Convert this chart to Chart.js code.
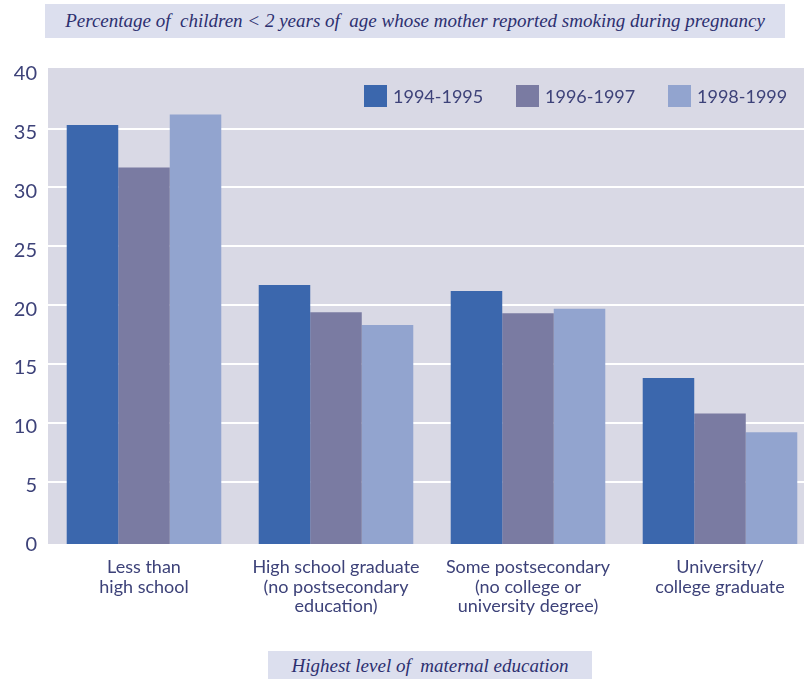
<!DOCTYPE html>
<html>
<head>
<meta charset="utf-8">
<script src="https://cdn.jsdelivr.net/npm/chart.js@4"></script>
<style>
  html, body { margin: 0; padding: 0; background: #fff; overflow: hidden; }
  body { width: 804px; height: 679px; position: relative; }
  #chart { position: absolute; left: 0; top: 0; }
  .caption {
    position: absolute;
    background: #dcdfee;
    color: #2d3070;
    font-family: "Liberation Serif", serif;
    font-style: italic;
    font-size: 19px;
    text-align: center;
    white-space: nowrap;
  }
  #title { left: 45px; top: 4px; width: 740px; height: 34px; line-height: 34px; }
  #xtitle { left: 268px; top: 651px; width: 324px; height: 30px; line-height: 30px; }
</style>
</head>
<body>
<div id="title" class="caption">Percentage of&nbsp; children &lt; 2 years of&nbsp; age whose mother reported smoking during pregnancy</div>
<canvas id="chart" width="820" height="640"></canvas>
<div id="xtitle" class="caption">Highest level of&nbsp; maternal education</div>

<script>
// Education levels (multi-line tick labels)
const categories = [
    ['Less than', 'high school'],
    ['High school graduate', '(no postsecondary', 'education)'],
    ['Some postsecondary', '(no college or', 'university degree)'],
    ['University/', 'college graduate']
];

// Survey periods
const seriesLabels = ['1994-1995', '1996-1997', '1998-1999'];

// Percent of children whose mother smoked during pregnancy
const values9495 = [35.3, 21.7, 21.2, 13.8];
const values9697 = [31.7, 19.4, 19.3, 10.8];
const values9899 = [36.2, 18.3, 19.7, 9.2];

const yTicks = [0, 5, 10, 15, 20, 25, 30, 35, 40];

const seriesColors = ['#3b67ad', '#7a7ba2', '#92a4cf'];
const textColor = '#3d4279';
const Y_MIN = -0.3;
const Y_MAX = 40.15;

// Fill the plot area before anything else is drawn
const plotBackground = {
    id: 'plotBackground',
    beforeDraw(chart) {
        const { ctx, chartArea: a } = chart;
        ctx.save();
        ctx.fillStyle = '#d9d9e5';
        ctx.fillRect(a.left, a.top, a.right - a.left, a.bottom - a.top);
        ctx.restore();
    }
};

// Legend drawn inside the plot, top right
const insideLegend = {
    id: 'insideLegend',
    afterDatasetsDraw(chart) {
        const ctx = chart.ctx;
        ctx.save();
        ctx.font = '18px Lato';
        ctx.textBaseline = 'middle';
        let x = 364;
        const y = 85;
        chart.data.datasets.forEach(ds => {
            ctx.fillStyle = ds.backgroundColor;
            ctx.fillRect(x, y, 23, 22);
            ctx.fillStyle = textColor;
            ctx.fillText(ds.label, x + 29, y + 12);
            x += 152;
        });
        ctx.restore();
    }
};

const seriesValues = [values9495, values9697, values9899];

new Chart(document.getElementById('chart'), {
    type: 'bar',
    data: {
        labels: categories,
        datasets: seriesLabels.map((label, i) => ({
            label: label,
            data: seriesValues[i],
            backgroundColor: seriesColors[i],
            base: Y_MIN,
            categoryPercentage: 0.805,
            barPercentage: 1.0
        }))
    },
    options: {
        responsive: false,
        animation: false,
        layout: { padding: { top: 68, right: 4, left: 0, bottom: 0 } },
        plugins: {
            legend: { display: false },
            tooltip: { enabled: false }
        },
        scales: {
            x: {
                grid: { display: false, drawTicks: false },
                border: { display: false },
                ticks: {
                    color: textColor,
                    font: { family: 'Lato', size: 18, lineHeight: 1.1 },
                    padding: 13,
                    maxRotation: 0,
                    autoSkip: false
                },
                afterFit(scale) { scale.height = 96; }
            },
            y: {
                min: Y_MIN,
                max: Y_MAX,
                afterBuildTicks(scale) {
                    scale.ticks = yTicks.map(v => ({ value: v }));
                },
                grid: {
                    drawTicks: false,
                    lineWidth: 2,
                    color: ctx => (ctx.tick && ctx.tick.value > 0 && ctx.tick.value < 40) ? '#ffffff' : 'rgba(0,0,0,0)'
                },
                border: { display: false },
                ticks: {
                    color: textColor,
                    font: { family: 'Lato', size: 20 },
                    padding: 11,
                    labelOffset: 4
                },
                afterFit(scale) { scale.width = 48; }
            }
        }
    },
    plugins: [plotBackground, insideLegend]
});
</script>
</body>
</html>
